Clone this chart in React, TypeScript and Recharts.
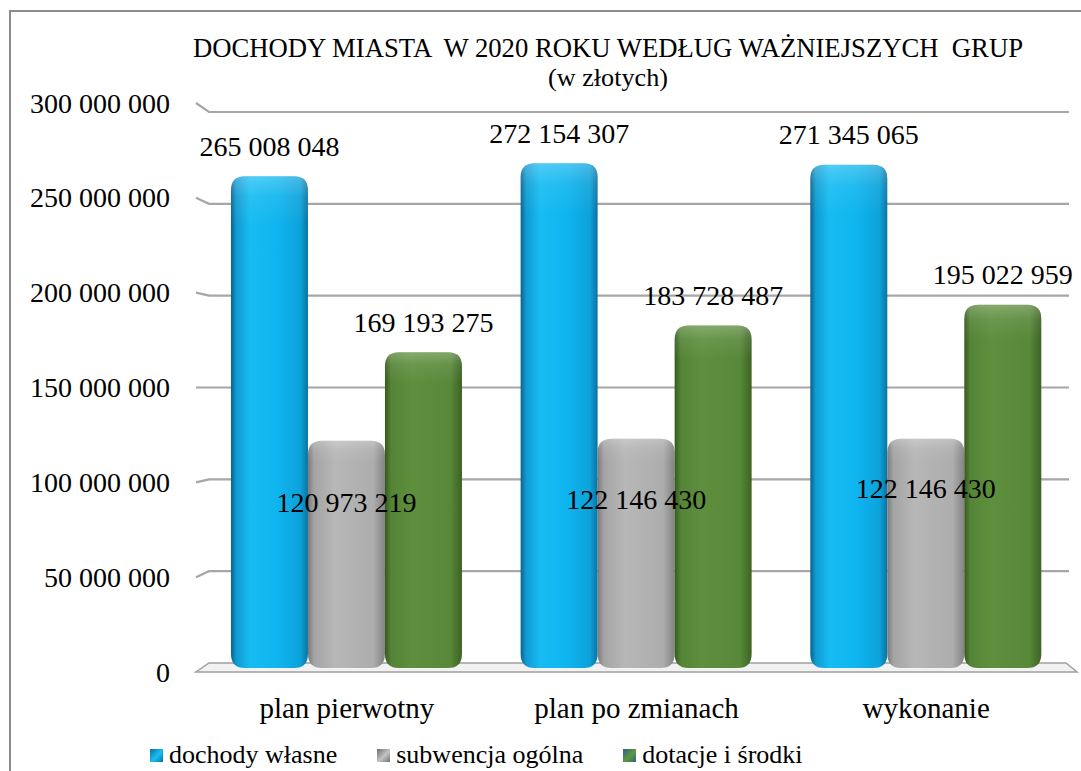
import React from "react";
import {
  BarChart,
  Bar,
  XAxis,
  YAxis,
  CartesianGrid,
  LabelList,
} from "recharts";

const CATEGORIES = ["plan pierwotny", "plan po zmianach", "wykonanie"];
const DOCHODY_WLASNE = [265008048, 272154307, 271345065];
const SUBWENCJA_OGOLNA = [120973219, 122146430, 122146430];
const DOTACJE_I_SRODKI = [169193275, 183728487, 195022959];
const SERIES_NAMES = ["dochody własne", "subwencja ogólna", "dotacje i środki"];
const Y_TICKS = [0, 50000000, 100000000, 150000000, 200000000, 250000000, 300000000];

const TITLE = "DOCHODY MIASTA  W 2020 ROKU WEDŁUG WAŻNIEJSZYCH  GRUP";
const SUBTITLE = "(w złotych)";

const W = 1081;
const H = 771;
const PLOT_TOP = 112;
const PLOT_BOTTOM = 663;
const FONT = "'Liberation Serif', 'Times New Roman', serif";
const TXT = { fontFamily: FONT, whiteSpace: "pre" as const };

// label offset for the grey bars (Excel put them inside, a bit below the top)
const INSIDE_LABEL_DY = [62, 61, 50];

const data = CATEGORIES.map((name, i) => ({
  name,
  wlasne: DOCHODY_WLASNE[i],
  subwencja: SUBWENCJA_OGOLNA[i],
  dotacje: DOTACJE_I_SRODKI[i],
}));

const fmt = (n: number) =>
  String(Math.round(n)).replace(/\B(?=(\d{3})+(?!\d))/g, " ");

// slanted back-wall edge (fake 3D perspective)
const slant = (y: number) => {
  const mid = (PLOT_TOP + PLOT_BOTTOM) / 2;
  return y + ((y - mid) * 9) / ((PLOT_BOTTOM - PLOT_TOP) / 2);
};

const GridLine = (props: any) => {
  const { x1, x2, y1, index } = props;
  const y = y1;
  const ys = slant(y);
  if (Math.abs(y - PLOT_BOTTOM) < 1) {
    return (
      <polygon
        key={`floor-${index}`}
        points={`${x1 + 7},${y} ${x2 - 5},${y} ${x2 + 6},${ys} ${x1 - 6},${ys}`}
        fill="#f2f2f2"
        stroke="#a0a0a0"
        strokeWidth={1.5}
      />
    );
  }
  return (
    <polyline
      key={`grid-${index}`}
      points={`${x1 - 6},${ys} ${x1 + 7},${y} ${x2 - 2},${y}`}
      fill="none"
      stroke="#a6a6a6"
      strokeWidth={2.2}
    />
  );
};

const roundedPath = (x: number, y: number, w: number, h: number, r: number) => {
  const rr = Math.min(r, w / 2, h / 2);
  return `M${x + rr},${y} H${x + w - rr} Q${x + w},${y} ${x + w},${y + rr} V${
    y + h - rr
  } Q${x + w},${y + h} ${x + w - rr},${y + h} H${x + rr} Q${x},${y + h} ${x},${
    y + h - rr
  } V${y + rr} Q${x},${y} ${x + rr},${y} Z`;
};

const makeShape = (grad: string) => (props: any) => {
  const { x, y, width, height } = props;
  if (!width || height == null) return <g />;
  const h = height + 5;
  const d = roundedPath(x, y, width, h, 14);
  return (
    <g>
      <path d={d} fill={`url(#${grad})`} />
      <path d={d} fill="url(#topShine)" />
    </g>
  );
};

const outsideLabel = (props: any) => {
  const { x, y, width, value } = props;
  return (
    <text
      x={x + width / 2}
      y={y - 30}
      textAnchor="middle"
      dominantBaseline="central"
      fontSize={28}
      style={TXT}
      fill="#000"
    >
      {fmt(value)}
    </text>
  );
};

const insideLabel = (props: any) => {
  const { x, y, width, value, index } = props;
  return (
    <text
      x={x + width / 2}
      y={y + INSIDE_LABEL_DY[index]}
      textAnchor="middle"
      dominantBaseline="central"
      fontSize={28}
      style={TXT}
      fill="#000"
    >
      {fmt(value)}
    </text>
  );
};

const YTick = (props: any) => {
  const { x, y, payload } = props;
  return (
    <text
      x={x - 32}
      y={slant(y)}
      textAnchor="end"
      dominantBaseline="central"
      fontSize={28}
      style={TXT}
      fill="#000"
    >
      {fmt(payload.value)}
    </text>
  );
};

const XTick = (props: any) => {
  const { x, y, payload } = props;
  return (
    <text
      x={x}
      y={y + 45}
      textAnchor="middle"
      dominantBaseline="central"
      fontSize={29}
      style={TXT}
      fill="#000"
    >
      {payload.value}
    </text>
  );
};

const LEGEND_COLORS = [
  ["#0b6f9c", "#19c0f5"],
  ["#6e6e6e", "#c4c4c4"],
  ["#2f5e8a", "#5f9a3c"],
];

export default function App() {
  return (
    <div
      style={{
        position: "absolute",
        left: 0,
        top: 0,
        width: W,
        height: H,
        overflow: "hidden",
        background: "#fff",
      }}
    >
      <svg width={0} height={0} style={{ position: "absolute" }}>
        <defs>
          <linearGradient id="gBlue" x1="0" y1="0" x2="1" y2="0">
            <stop offset="0%" stopColor="#09628c" />
            <stop offset="7%" stopColor="#0f9bd2" />
            <stop offset="25%" stopColor="#17bcf2" />
            <stop offset="60%" stopColor="#0fb5ef" />
            <stop offset="90%" stopColor="#0ca2da" />
            <stop offset="100%" stopColor="#0a72a2" />
          </linearGradient>
          <linearGradient id="gGray" x1="0" y1="0" x2="1" y2="0">
            <stop offset="0%" stopColor="#7a7a7a" />
            <stop offset="8%" stopColor="#a4a4a4" />
            <stop offset="35%" stopColor="#b7b7b7" />
            <stop offset="85%" stopColor="#adadad" />
            <stop offset="100%" stopColor="#838383" />
          </linearGradient>
          <linearGradient id="gGreen" x1="0" y1="0" x2="1" y2="0">
            <stop offset="0%" stopColor="#36591f" />
            <stop offset="8%" stopColor="#548436" />
            <stop offset="35%" stopColor="#5e8f3d" />
            <stop offset="85%" stopColor="#588839" />
            <stop offset="100%" stopColor="#3b6323" />
          </linearGradient>
          <linearGradient id="topShine" x1="0" y1="0" x2="0" y2="1" gradientUnits="objectBoundingBox">
            <stop offset="0%" stopColor="#ffffff" stopOpacity={0.25} />
            <stop offset="4%" stopColor="#ffffff" stopOpacity={0.08} />
            <stop offset="10%" stopColor="#ffffff" stopOpacity={0} />
            <stop offset="100%" stopColor="#000000" stopOpacity={0} />
          </linearGradient>
        </defs>
      </svg>

      <div
        style={{
          position: "absolute",
          left: 9,
          top: 10,
          width: 1200,
          height: 900,
          borderLeft: "2px solid #8c8c8c",
          borderTop: "2px solid #8c8c8c",
        }}
      />

      <div style={{ position: "absolute", left: 0, top: 0 }}>
        <BarChart
          width={W}
          height={H}
          data={data}
          margin={{ top: PLOT_TOP, right: 10, bottom: H - PLOT_BOTTOM - 30, left: 0 }}
          barCategoryGap="10%"
          barGap={0}
        >
          <CartesianGrid vertical={false} horizontal={GridLine as any} />
          <XAxis
            dataKey="name"
            axisLine={false}
            tickLine={false}
            tickSize={0}
            tickMargin={0}
            height={30}
            tick={<XTick />}
          />
          <YAxis
            width={202}
            domain={[0, 300000000]}
            ticks={Y_TICKS}
            axisLine={false}
            tickLine={false}
            tickSize={0}
            tickMargin={0}
            tick={<YTick />}
          />
          <Bar dataKey="wlasne" name={SERIES_NAMES[0]} isAnimationActive={false} shape={makeShape("gBlue")}>
            <LabelList dataKey="wlasne" content={outsideLabel} />
          </Bar>
          <Bar dataKey="subwencja" name={SERIES_NAMES[1]} isAnimationActive={false} shape={makeShape("gGray")}>
            <LabelList dataKey="subwencja" content={insideLabel} />
          </Bar>
          <Bar dataKey="dotacje" name={SERIES_NAMES[2]} isAnimationActive={false} shape={makeShape("gGreen")}>
            <LabelList dataKey="dotacje" content={outsideLabel} />
          </Bar>
        </BarChart>
      </div>

      <svg
        width={W}
        height={100}
        style={{ position: "absolute", left: 0, top: 0, pointerEvents: "none" }}
      >
        <text
          x={608}
          y={48}
          textAnchor="middle"
          dominantBaseline="central"
          fontSize={27}
          style={TXT}
          textLength={830}
          lengthAdjust="spacingAndGlyphs"
          fill="#000"
        >
          {TITLE}
        </text>
        <text
          x={608}
          y={77}
          textAnchor="middle"
          dominantBaseline="central"
          fontSize={26}
          style={TXT}
          textLength={120}
          lengthAdjust="spacingAndGlyphs"
          fill="#000"
        >
          {SUBTITLE}
        </text>
      </svg>

      <div
        style={{
          position: "absolute",
          left: 150,
          top: 738,
          display: "flex",
          alignItems: "center",
          fontFamily: FONT,
          fontSize: 26,
          lineHeight: "34px",
          color: "#000",
          whiteSpace: "nowrap",
        }}
      >
        {SERIES_NAMES.map((name, i) => (
          <div
            key={name}
            style={{ display: "flex", alignItems: "center", marginRight: 40 }}
          >
            <span
              style={{
                display: "inline-block",
                width: 13,
                height: 13,
                marginRight: 6,
                background: `linear-gradient(135deg, ${LEGEND_COLORS[i][0]} 0%, ${LEGEND_COLORS[i][1]} 55%, ${LEGEND_COLORS[i][0]} 100%)`,
              }}
            />
            <span>{name}</span>
          </div>
        ))}
      </div>
    </div>
  );
}
